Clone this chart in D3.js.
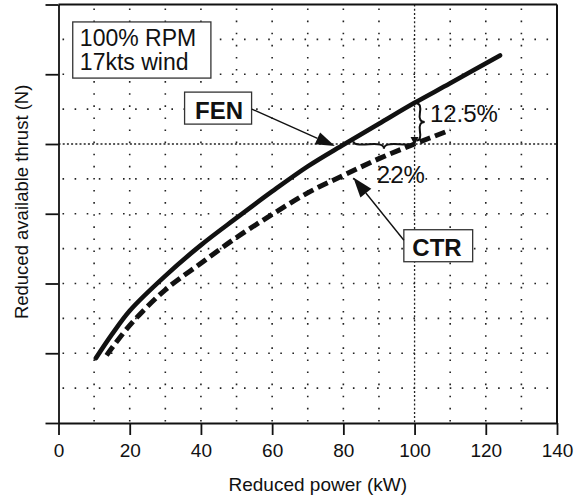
<!DOCTYPE html>
<html><head><meta charset="utf-8">
<script src="https://cdn.jsdelivr.net/npm/d3@7"></script>
<style>
html,body{margin:0;padding:0;background:#fff;}
svg{display:block;font-family:"Liberation Sans",Arial,Helvetica,sans-serif;}
</style></head>
<body>
<svg id="chart" width="580" height="498"></svg>
<script>
// ---- data ----
const xTickValues = [0, 20, 40, 60, 80, 100, 120, 140];
const yTickValues = [0, 1, 2, 3, 4, 5, 6];
const xGridValues = [10, 20, 30, 40, 50, 60, 70, 80, 90, 110, 120, 130];
const yGridValues = [0.5, 1, 1.5, 2, 2.5, 3, 3.5, 4.5, 5, 5.5];
const majorX = [100];
const majorY = [4];
const fenPower  = [10.5, 15, 20, 30, 40, 50, 60, 70, 80, 90, 100, 110, 124];
const fenThrust = [0.93, 1.27, 1.61, 2.11, 2.55, 2.94, 3.32, 3.68, 3.99, 4.29, 4.59, 4.87, 5.27];
const ctrPower  = [13.5, 20, 30, 40, 50, 60, 70, 80, 90, 100, 110];
const ctrThrust = [0.97, 1.40, 1.91, 2.29, 2.66, 2.99, 3.30, 3.55, 3.79, 4.00, 4.20];
const xTitle = "Reduced power (kW)";
const yTitle = "Reduced available thrust (N)";
const infoLines = ["100% RPM", "17kts wind"];
const fenLabel = "FEN", ctrLabel = "CTR";
const gapPower = "12.5%", gapThrust = "22%";

// ---- scales ----
const svg = d3.select("#chart");
const x = d3.scaleLinear().domain([0, 140]).range([58.5, 557]);
const y = d3.scaleLinear().domain([0, 6]).range([423, 4.5]);
const ink = "#111";

// grid
const grid = svg.append("g");
grid.selectAll("line.gx").data(xGridValues).join("line")
  .attr("x1", d => x(d)).attr("x2", d => x(d)).attr("y1", y(6)).attr("y2", y(0))
  .attr("stroke", "#222").attr("stroke-width", 1.6).attr("stroke-dasharray", "1.6,10.5")
  .attr("stroke-dashoffset", -4);
grid.selectAll("line.gy").data(yGridValues).join("line")
  .attr("y1", d => y(d)).attr("y2", d => y(d)).attr("x1", x(0)).attr("x2", x(140))
  .attr("stroke", "#222").attr("stroke-width", 1.6).attr("stroke-dasharray", "1.6,10.5")
  .attr("stroke-dashoffset", -4);
grid.selectAll("line.mx").data(majorX).join("line")
  .attr("x1", d => x(d)).attr("x2", d => x(d)).attr("y1", y(6)).attr("y2", y(0))
  .attr("stroke", "#222").attr("stroke-width", 1.3).attr("stroke-dasharray", "2,2.2");
grid.selectAll("line.my").data(majorY).join("line")
  .attr("y1", d => y(d)).attr("y2", d => y(d)).attr("x1", x(0)).attr("x2", x(140))
  .attr("stroke", "#222").attr("stroke-width", 1.3).attr("stroke-dasharray", "2,2.2");

// axes
const xAxis = svg.append("g").attr("transform", `translate(0,${y(0)})`)
  .call(d3.axisBottom(x).tickValues(xTickValues).tickFormat(d3.format("d"))
    .tickSize(12).tickSizeOuter(0).tickPadding(8.5));
xAxis.select(".domain").attr("stroke", ink).attr("stroke-width", 1.8);
xAxis.selectAll(".tick line").attr("stroke", ink).attr("stroke-width", 1.8);
xAxis.selectAll(".tick text").attr("font-size", 19).attr("fill", ink)
  .attr("font-family", "'Liberation Sans',Arial,sans-serif");

const yAxis = svg.append("g").attr("transform", `translate(${x(0)},0)`)
  .call(d3.axisLeft(y).tickValues(yTickValues).tickFormat("").tickSize(13).tickSizeOuter(0));
yAxis.select(".domain").attr("stroke", ink).attr("stroke-width", 1.8);
yAxis.selectAll(".tick line").attr("stroke", ink).attr("stroke-width", 1.8);

// frame top + right
svg.append("line").attr("x1", x(0)).attr("x2", x(140)).attr("y1", y(6)).attr("y2", y(6))
  .attr("stroke", ink).attr("stroke-width", 2.2);
svg.append("line").attr("x1", x(140)).attr("x2", x(140)).attr("y1", y(6)).attr("y2", y(0))
  .attr("stroke", ink).attr("stroke-width", 2);

// titles
svg.append("text").attr("x", (x(0) + x(140)) / 2 + 10).attr("y", 490.5)
  .attr("text-anchor", "middle").attr("font-size", 19).attr("fill", ink).text(xTitle);
svg.append("text").attr("transform", `translate(28,${y(3.17)}) rotate(-90)`)
  .attr("text-anchor", "middle").attr("font-size", 18.5).attr("fill", ink).text(yTitle);

// curves
const line = d3.line().x(d => x(d[0])).y(d => y(d[1])).curve(d3.curveCatmullRom.alpha(0.5));
const fen = fenPower.map((p, i) => [p, fenThrust[i]]);
const ctr = ctrPower.map((p, i) => [p, ctrThrust[i]]);
svg.append("path").attr("d", line(ctr)).attr("fill", "none").attr("stroke", ink)
  .attr("stroke-width", 5).attr("stroke-dasharray", "11,5");
svg.append("path").attr("d", line(fen)).attr("fill", "none").attr("stroke", ink)
  .attr("stroke-width", 4.6).attr("stroke-linecap", "round");

// helpers
function arrow(x1, y1, x2, y2, len, hw) {
  const dx = x2 - x1, dy = y2 - y1, L = Math.hypot(dx, dy), ux = dx / L, uy = dy / L;
  const bx = x2 - ux * len, by = y2 - uy * len;
  svg.append("line").attr("x1", x1).attr("y1", y1).attr("x2", bx).attr("y2", by)
    .attr("stroke", ink).attr("stroke-width", 1.4);
  svg.append("path").attr("d", `M${x2},${y2}L${bx - uy * hw},${by + ux * hw}L${bx + uy * hw},${by - ux * hw}Z`)
    .attr("fill", ink);
}
function brace(x1, y1, x2, y2, w, q) {
  let dx = x1 - x2, dy = y1 - y2;
  const len = Math.hypot(dx, dy); dx /= len; dy /= len;
  const qx1 = x1 + q * w * dy, qy1 = y1 - q * w * dx;
  const qx2 = (x1 - .25 * len * dx) + (1 - q) * w * dy, qy2 = (y1 - .25 * len * dy) - (1 - q) * w * dx;
  const tx1 = (x1 - .5 * len * dx) + w * dy, ty1 = (y1 - .5 * len * dy) - w * dx;
  const qx3 = x2 + q * w * dy, qy3 = y2 - q * w * dx;
  const qx4 = (x1 - .75 * len * dx) + (1 - q) * w * dy, qy4 = (y1 - .75 * len * dy) - (1 - q) * w * dx;
  svg.append("path")
    .attr("d", `M${x1},${y1}Q${qx1},${qy1} ${qx2},${qy2}T${tx1},${ty1}M${x2},${y2}Q${qx3},${qy3} ${qx4},${qy4}T${tx1},${ty1}`)
    .attr("fill", "none").attr("stroke", ink).attr("stroke-width", 2);
}
function labelBox(cx, base, txt, weight, padL, padR) {
  const rect = svg.append("rect");
  const t = svg.append("text").attr("x", cx).attr("y", base).attr("text-anchor", "middle")
    .attr("font-size", 24).attr("font-weight", weight).attr("fill", ink).text(txt);
  const b = t.node().getBBox();
  rect.attr("x", b.x - padL).attr("y", base - 26.5).attr("width", b.width + padL + padR).attr("height", 32)
    .attr("fill", "#fff").attr("stroke", "#333").attr("stroke-width", 1.3);
  return b;
}

// info box
svg.append("rect").attr("x", x(4.0)).attr("y", y(5.75))
  .attr("width", x(42.8) - x(4.0)).attr("height", y(4.945) - y(5.75))
  .attr("fill", "#fff").attr("stroke", "#333").attr("stroke-width", 1.3);
svg.append("text").attr("x", x(6.0)).attr("font-size", 23).attr("fill", ink)
  .selectAll("tspan").data(infoLines).join("tspan")
  .attr("x", x(6.0)).attr("y", (d, i) => y(5.41) + i * 24).text(d => d);

// FEN label + arrow
labelBox(x(45.1), y(4.364), fenLabel, "bold", 10.5, 8.5);
arrow(x(54.3), y(4.50), x(77.6), y(3.97), 19, 6.5);

// CTR label + arrow
labelBox(x(106.3), y(2.391), ctrLabel, "bold", 8.5, 11);
arrow(x(97.0), y(2.62), x(82.8), y(3.52), 20, 7);

// braces
brace(x(82.8), y(4.04), x(100), y(4.04), 7.5, 0.6);
brace(x(100.6), y(4.05), x(100.6), y(4.58), 8, 0.6);
svg.append("path")
  .attr("d", `M${x(100)},${y(4.0) + 1}l-4,-8l8,0Z`).attr("fill", ink);

// percentages
svg.append("text").attr("x", x(104.3)).attr("y", y(4.31)).attr("font-size", 24).attr("fill", ink).text(gapPower);
svg.append("text").attr("x", x(89.4)).attr("y", y(3.437)).attr("font-size", 24).attr("fill", ink).text(gapThrust);
</script>
</body></html>
